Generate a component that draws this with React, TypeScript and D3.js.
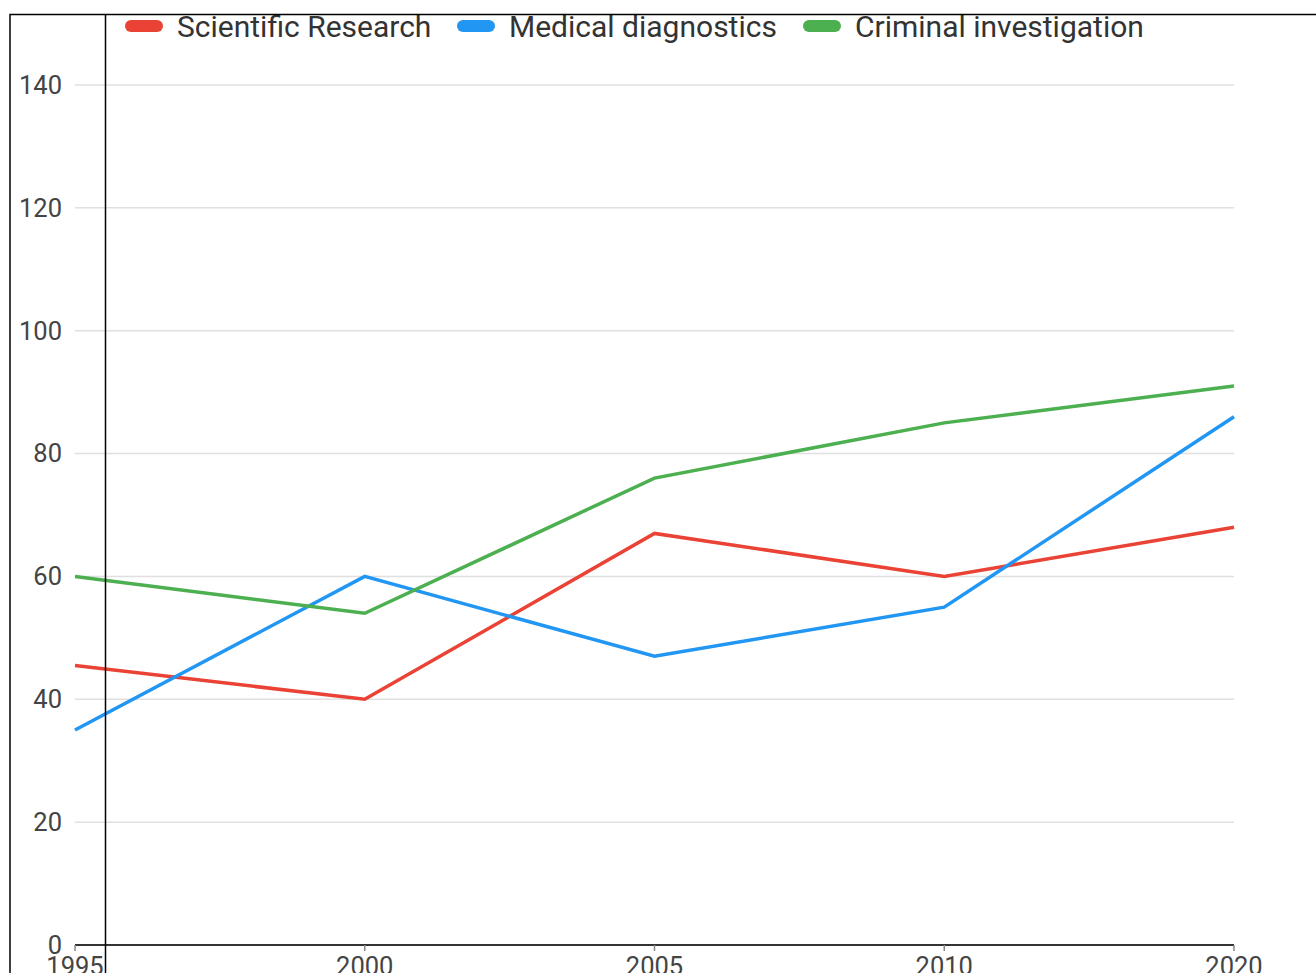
import React, { useEffect, useRef } from "react";
import * as d3 from "d3";

const years = ["1995", "2000", "2005", "2010", "2020"];
const scientific = [45.5, 40, 67, 60, 68];
const medical = [35, 60, 47, 55, 86];
const criminal = [60, 54, 76, 85, 91];
const yTicks = [0, 20, 40, 60, 80, 100, 120, 140];

const series = [
    { name: "Scientific Research", values: scientific, color: "#ea4335" },
    { name: "Medical diagnostics", values: medical, color: "#2196f3" },
    { name: "Criminal investigation", values: criminal, color: "#4caf50" },
];

const W = 1316, H = 973;

export default function App() {
    const ref = useRef<SVGSVGElement>(null);

    useEffect(() => {
        const svg = d3.select(ref.current);
        svg.selectAll("*").remove();

        const x = d3.scalePoint().domain(years).range([75, 1234]);
        const y = d3.scaleLinear().domain([0, 140]).range([945, 85]);
        const font = "Roboto, sans-serif";

        // grid
        svg.append("g")
            .selectAll("line")
            .data(yTicks.filter(d => d > 0))
            .join("line")
            .attr("x1", 75).attr("x2", 1234)
            .attr("y1", d => y(d)).attr("y2", d => y(d))
            .attr("stroke", "#e0e0e0")
            .attr("stroke-width", 1.5);

        // y labels
        svg.append("g")
            .selectAll("text")
            .data(yTicks)
            .join("text")
            .attr("x", 62)
            .attr("y", d => y(d))
            .attr("dy", "0.35em")
            .attr("text-anchor", "end")
            .attr("font-family", font)
            .attr("font-size", 25.5)
            .attr("fill", "#444")
            .text(d => d);

        // x axis
        const xAxis = svg.append("g").attr("transform", `translate(0,${y(0)})`);
        xAxis.append("line")
            .attr("x1", 75).attr("x2", 1234)
            .attr("stroke", "#333").attr("stroke-width", 2);
        xAxis.selectAll("line.tick")
            .data(years)
            .join("line")
            .attr("class", "tick")
            .attr("x1", d => x(d)!).attr("x2", d => x(d)!)
            .attr("y1", 0).attr("y2", 6)
            .attr("stroke", "#888").attr("stroke-width", 1.5);
        xAxis.selectAll("text")
            .data(years)
            .join("text")
            .attr("x", d => x(d)!)
            .attr("y", 30)
            .attr("text-anchor", "middle")
            .attr("font-family", font)
            .attr("font-size", 25.5)
            .attr("fill", "#444")
            .text(d => d);

        // lines
        const line = d3.line<number>()
            .x((_, i) => x(years[i])!)
            .y(d => y(d));

        svg.append("g")
            .selectAll("path")
            .data(series)
            .join("path")
            .attr("d", d => line(d.values))
            .attr("fill", "none")
            .attr("stroke", d => d.color)
            .attr("stroke-width", 3.5);

        // legend
        const legendX = [125, 457, 803];
        const lg = svg.append("g")
            .selectAll("g")
            .data(series)
            .join("g")
            .attr("transform", (_, i) => `translate(${legendX[i]},26)`);
        lg.append("rect")
            .attr("x", 0).attr("y", -6)
            .attr("width", 38).attr("height", 12)
            .attr("rx", 6)
            .attr("fill", d => d.color);
        lg.append("text")
            .attr("x", 52)
            .attr("dy", "0.35em")
            .attr("font-family", font)
            .attr("font-size", 30)
            .attr("fill", "#333")
            .text(d => d.name);

        // frame lines
        svg.append("path")
            .attr("d", `M10,${H} V14.5 H${W} M105.5,14.5 V${H}`)
            .attr("fill", "none")
            .attr("stroke", "#000")
            .attr("stroke-width", 1.5);
    }, []);

    return (
        <svg ref={ref} width={W} height={H}
            style={{ position: "absolute", left: 0, top: 0, background: "#fff" }} />
    );
}
